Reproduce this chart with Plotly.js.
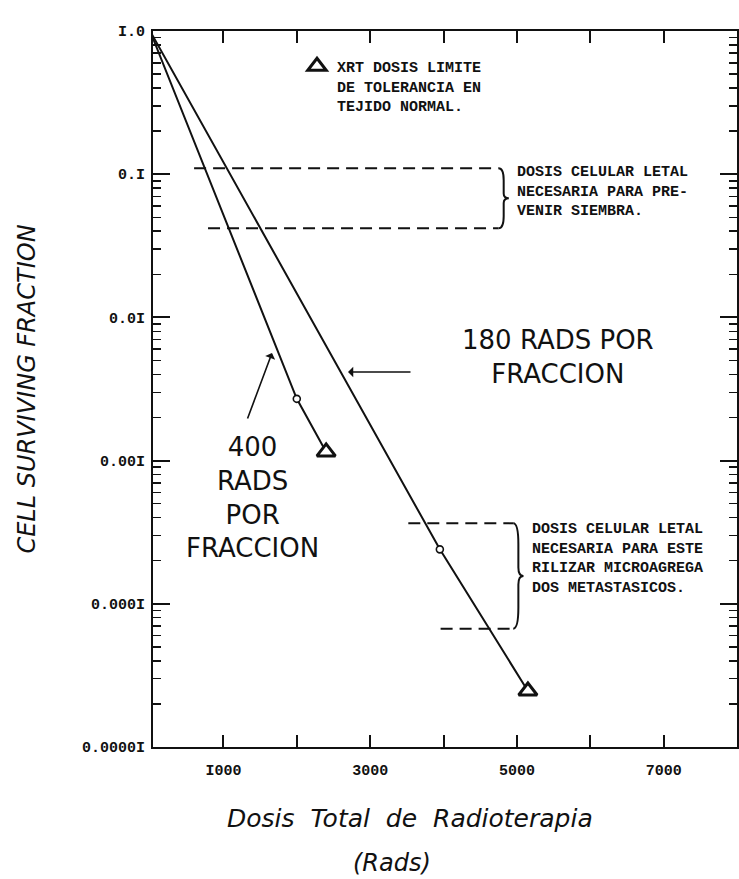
<!DOCTYPE html>
<html><head><meta charset="utf-8">
<script src="https://cdn.plot.ly/plotly-3.0.1.min.js"></script>
<style>html,body{margin:0;padding:0;background:#fff}</style>
</head><body><div id="chart" style="width:739px;height:879px"></div>
<script>
// ---- data ----
const dose400 = [0, 2000, 2400];
const surv400 = [1.0, 0.0027, 0.00115];
const dose180 = [0, 3950, 5150];
const surv180 = [1.0, 0.00024, 0.0000246];

// bracket: "dosis celular letal necesaria para prevenir siembra"
const seedY = [0.11, 0.042];
const seedX0 = [600, 790];
const seedX1 = 4750;
// bracket: "... esterilizar microagregados metastasicos"
const steriY = [0.000365, 0.000067];
const steriX0 = [3520, 3960];
const steriX1 = 4950;

const xTickVals = [1000, 2000, 3000, 4000, 5000, 6000, 7000];
const xTickText = ['I000', '', '3000', '', '5000', '', '7000'];
const yTickVals = [1e-5, 1e-4, 1e-3, 1e-2, 1e-1, 1];
const yTickText = ['0.0000I', '0.000I', '0.00I', '0.0I', '0.I', 'I.0'];

const legendText = 'XRT DOSIS LIMITE<br>DE TOLERANCIA EN<br>TEJIDO NORMAL.';
const seedText = 'DOSIS CELULAR LETAL<br>NECESARIA PARA PRE-<br>VENIR SIEMBRA.';
const steriText = 'DOSIS CELULAR LETAL<br>NECESARIA PARA ESTE<br>RILIZAR MICROAGREGA<br>DOS METASTASICOS.';
const label180 = '180 RADS POR<br>FRACCION';
const label400 = '400<br>RADS<br>POR<br>FRACCION';
const xTitle = 'Dosis  Total  de  Radioterapia';
const xUnit = '(Rads)';
const yTitle = 'CELL SURVIVING FRACTION';

// ---- layout geometry ----
const W = 739, H = 879;
const L = 153, R = 737, T = 31, B = 747;
function P(px, py) { return {x: (px - L) / (R - L), y: (B - py) / (B - T)}; }

const INK = '#111';
const mono = {family: 'Liberation Mono, Courier New, monospace', size: 15, weight: 'bold', color: INK};
const hand = {family: 'DejaVu Sans, sans-serif', size: 26, color: INK};
const ital = {family: 'DejaVu Sans, sans-serif', size: 24, style: 'italic', color: INK};

// minor log ticks (2..9 within each decade)
const minorVals = [];
for (let k = -5; k < 0; k++) for (let m = 2; m <= 9; m++) minorVals.push(m * Math.pow(10, k));

const traces = [
  {x: dose400, y: surv400, mode: 'lines', line: {color: INK, width: 2}, showlegend: false, hoverinfo: 'skip'},
  {x: dose180, y: surv180, mode: 'lines', line: {color: INK, width: 2}, showlegend: false, hoverinfo: 'skip'},
  {x: [seedX0[0], seedX1, null, seedX0[1], seedX1], y: [seedY[0], seedY[0], null, seedY[1], seedY[1]],
   mode: 'lines', line: {color: INK, width: 2, dash: '12px,7px'}, showlegend: false, hoverinfo: 'skip'},
  {x: [steriX0[0], steriX1, null, steriX0[1], steriX1], y: [steriY[0], steriY[0], null, steriY[1], steriY[1]],
   mode: 'lines', line: {color: INK, width: 2, dash: '12px,7px'}, showlegend: false, hoverinfo: 'skip'},
  // the minor-tick axis y2 has the same log scale as y
  {x: [dose400[1], dose180[1]], y: [surv400[1], surv180[1]], yaxis: 'y2', mode: 'markers',
   marker: {symbol: 'circle', size: 7, color: '#fff', line: {color: INK, width: 1.6}}, showlegend: false},
  {x: [dose400[2], dose180[2]], y: [surv400[2], surv180[2]], yaxis: 'y2', mode: 'markers', name: legendText,
   marker: {symbol: 'triangle-up', size: 16, color: '#fff', line: {color: INK, width: 3}}, showlegend: true}
];

function bracePath(x, yTop, yBot, w) {
  const lt = Math.log10(yTop), lb = Math.log10(yBot);
  const Lf = f => Math.pow(10, lt + (lb - lt) * f);
  return `M${x},${yTop} Q${x + w},${yTop} ${x + w},${Lf(0.2)} L${x + w},${Lf(0.42)} ` +
         `Q${x + w},${Lf(0.5)} ${x + 2 * w},${Lf(0.5)} Q${x + w},${Lf(0.5)} ${x + w},${Lf(0.58)} ` +
         `L${x + w},${Lf(0.8)} Q${x + w},${yBot} ${x},${yBot}`;
}

const shapes = [
  {type: 'path', xref: 'x', yref: 'y', path: bracePath(seedX1, seedY[0], seedY[1], 70), line: {color: INK, width: 2}},
  {type: 'path', xref: 'x', yref: 'y', path: bracePath(steriX1, steriY[0], steriY[1], 70), line: {color: INK, width: 2}}
];

const annotations = [];
function addText(text, px, py, font, xanchor, yanchor, align) {
  const p = P(px, py);
  annotations.push({xref: 'paper', yref: 'paper', x: p.x, y: p.y, text: text, showarrow: false,
    font: font, xanchor: xanchor, yanchor: yanchor, align: align || 'center'});
}
addText(label180, 558, 357, hand, 'center', 'middle');
addText(label400, 252, 497, hand, 'center', 'middle');
addText(seedText, 515, 162, mono, 'left', 'top', 'left');
addText(steriText, 530, 519, mono, 'left', 'top', 'left');
addText(xTitle, 410, 818, Object.assign({}, ital, {size: 25}), 'center', 'middle');
addText(xUnit, 392, 863, ital, 'center', 'middle');

function addArrow(hx, hy, ax, ay) {
  const p = P(hx, hy);
  annotations.push({xref: 'paper', yref: 'paper', x: p.x, y: p.y, ax: ax, ay: ay, text: '',
    showarrow: true, arrowhead: 1, arrowsize: 1.1, arrowwidth: 1.6, arrowcolor: INK, standoff: 0});
}
addArrow(348, 372, 64, 0);
addArrow(272, 353, -25, 67);

const legPos = P(297, 50);

const layout = {
  width: W, height: H,
  margin: {l: L, r: W - R, t: T, b: H - B, pad: 0},
  paper_bgcolor: '#fff', plot_bgcolor: '#fff',
  showlegend: true,
  legend: {x: legPos.x, y: legPos.y, xanchor: 'left', yanchor: 'top', bgcolor: 'rgba(0,0,0,0)',
    font: mono, valign: 'top', borderwidth: 0},
  xaxis: {
    range: [40, 8000], tickmode: 'array', tickvals: xTickVals, ticktext: xTickText,
    ticks: 'inside', ticklen: 12, tickwidth: 2, tickcolor: INK,
    showline: true, linewidth: 2, linecolor: INK, mirror: 'ticks',
    showgrid: false, zeroline: false, tickfont: mono, ticklabelstandoff: 8
  },
  yaxis: {
    type: 'log', range: [-5, 0], tickmode: 'array', tickvals: yTickVals, ticktext: yTickText,
    ticks: 'inside', ticklen: 17, tickwidth: 2, tickcolor: INK,
    showline: true, linewidth: 2, linecolor: INK, mirror: 'ticks',
    showgrid: false, zeroline: false, tickfont: mono, ticklabelstandoff: 3,
    title: {text: yTitle, font: ital, standoff: 40}
  },
  yaxis2: {
    type: 'log', range: [-5, 0], overlaying: 'y', anchor: 'x', side: 'left',
    tickmode: 'array', tickvals: minorVals, showticklabels: false,
    ticks: 'inside', ticklen: 8, tickwidth: 1.5, tickcolor: INK,
    showline: true, linewidth: 2, linecolor: INK, mirror: 'ticks',
    showgrid: false, zeroline: false
  },
  shapes: shapes,
  annotations: annotations
};

Plotly.newPlot('chart', traces, layout, {staticPlot: true, displayModeBar: false});
</script></body></html>
